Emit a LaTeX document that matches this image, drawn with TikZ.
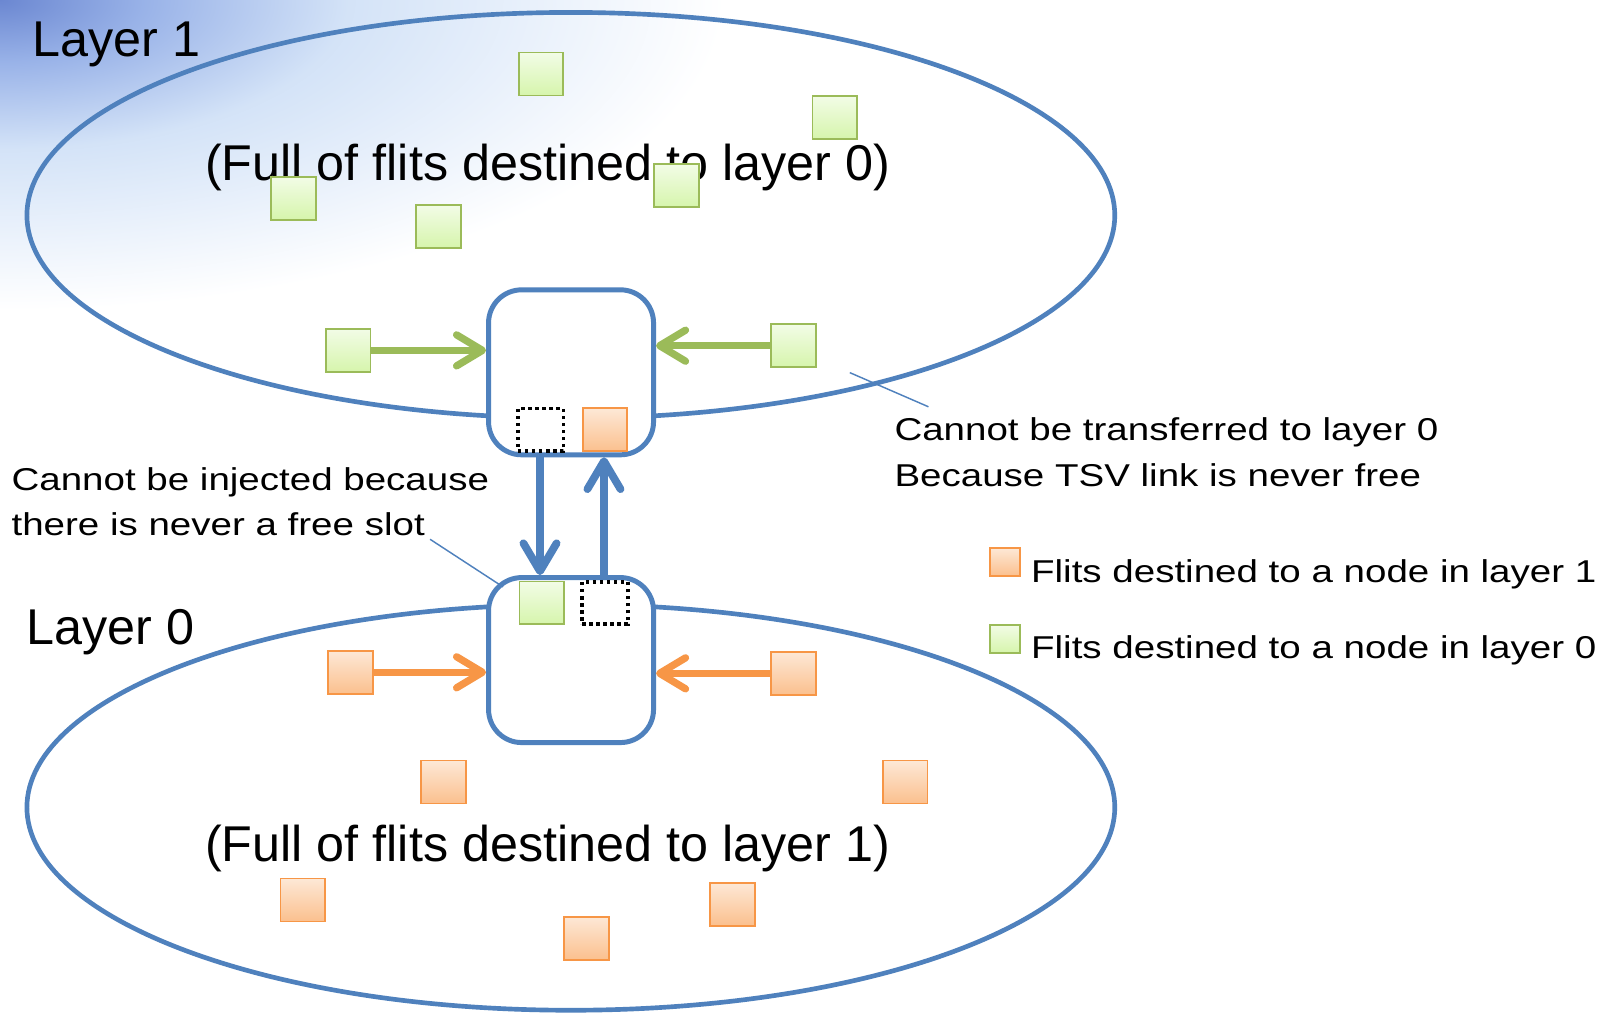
\documentclass[tikz,border=0pt]{standalone}
\usepackage{fontspec}
\setmainfont{Liberation Sans}
\newfontfamily\wfont[FakeStretch=1.22]{Liberation Sans}
\usetikzlibrary{arrows.meta,shapes.geometric}
\definecolor{lblue}{RGB}{79,129,189}
\definecolor{lgreen}{RGB}{155,187,89}
\definecolor{lorange}{RGB}{247,150,70}
\definecolor{gtop}{RGB}{242,252,230}
\definecolor{gbot}{RGB}{214,245,172}
\definecolor{otop}{RGB}{253,232,214}
\definecolor{obot}{RGB}{251,192,142}
\pgfdeclareradialshading{bgfade}{\pgfpoint{0bp}{0bp}}{rgb(0bp)=(0.42,0.53,0.82); rgb(5bp)=(0.60,0.70,0.91); rgb(12bp)=(0.83,0.89,0.97); rgb(25bp)=(1,1,1); rgb(50bp)=(1,1,1)}
\begin{document}
\begin{tikzpicture}[x=1pt,y=-1pt,
  layer/.style={ellipse, draw=lblue, line width=4.5pt, minimum width=1051pt, minimum height=392pt, inner sep=0pt},
  router/.style={draw=lblue, line width=4.8pt, fill=white, rounded corners=32pt, minimum width=159.4pt, minimum height=159.4pt, inner sep=0pt},
  gsq/.style={draw=lgreen, line width=1.8pt, top color=gtop, bottom color=gbot, minimum width=43pt, minimum height=41.5pt, inner sep=0pt},
  osq/.style={draw=lorange, line width=1.8pt, top color=otop, bottom color=obot, minimum width=43pt, minimum height=41.5pt, inner sep=0pt},
  lgsq/.style={gsq, minimum width=29pt, minimum height=27pt},
  losq/.style={osq, minimum width=29pt, minimum height=27pt},
  slot/.style={draw=black, line width=3.6pt, dash pattern=on 3.4pt off 3.4pt, minimum width=44pt, minimum height=41pt, inner sep=0pt},
  garrow/.style={draw=lgreen, line width=7pt, -{Straight Barb[length=25pt,width=30pt,round]}},
  oarrow/.style={draw=lorange, line width=7pt, -{Straight Barb[length=25pt,width=30pt,round]}},
  barrow/.style={draw=lblue, line width=7.5pt, -{Straight Barb[length=27pt,width=32pt,round]}},
  note/.style={draw=lblue, line width=1.4pt},
  big/.style={inner sep=0pt, font=\fontsize{48.6}{58}\selectfont},
  small/.style={inner sep=0pt, anchor=base west, font=\wfont\fontsize{30.5}{40}\selectfont}
]
\useasboundingbox (0,0) rectangle (1568,980);
\fill[white] (0,0) rectangle (1568,980);
\begin{scope}
  \clip (0,0) rectangle (1568,980);
  \shade[shading=bgfade] (0,0) ellipse [x radius=700, y radius=300];
\end{scope}

% layers
\node[layer] (layer1) at (551.5,208) {};
\node[layer] (layer0) at (551.5,780) {};

% routers
\node[router] (r1) at (551.7,359.7) {};
\node[router] (r0) at (551.7,637.7) {};

% texts
\node[big, anchor=base west] (t1) at (31,55) {Layer 1};
\node[big, anchor=base west] (t0) at (25.5,623) {Layer 0};
\node[big, anchor=base] (full1) at (529,174) {(Full of flits destined to layer 0)};
\node[big, anchor=base] (full0) at (529,832) {(Full of flits destined to layer 1)};

% green flits in layer 1
\node[gsq] (g1) at (522.5,71.5) {};
\node[gsq] (g2) at (806.5,113.5) {};
\node[gsq] (g3) at (283.5,191.5) {};
\node[gsq] (g4) at (423.5,219) {};
\node[gsq] (g5) at (653.5,179.5) {};
\node[gsq] (g6) at (336.5,338.5) {};
\node[gsq] (g7) at (766.5,334) {};

% orange flits in layer 0
\node[osq] (o1) at (338.5,649.5) {};
\node[osq] (o2) at (766.5,650.5) {};
\node[osq] (o3) at (428.5,755.5) {};
\node[osq] (o4) at (874.5,755.5) {};
\node[osq] (o5) at (292.5,869.5) {};
\node[osq] (o6) at (707.5,873.5) {};
\node[osq] (o7) at (566.5,906.5) {};

% slots in routers
\node[slot] (s1) at (522.3,415.2) {};
\node[osq] (so) at (584.5,415.3) {};
\node[gsq] (sg) at (523.4,582.5) {};
\node[slot] (s0) at (584.5,582.5) {};

% arrows into routers
\draw[garrow] (g6.east) -- (g6.east -| r1.west);
\draw[garrow] (g7.west) -- (g7.west -| r1.east);
\draw[oarrow] (o1.east) -- (o1.east -| r0.west);
\draw[oarrow] (o2.west) -- (o2.west -| r0.east);

% TSV links
\draw[barrow] ([xshift=-30pt]r1.south) -- ([xshift=-30pt]r0.north);
\draw[barrow] ([xshift=31.8pt]r0.north) -- ([xshift=31.8pt]r1.south);

% annotations
\node[small] (na1) at (864,426) {Cannot be transferred to layer 0};
\node[small] (na2) at (864,470) {Because TSV link is never free};
\node[small] (nb1) at (11,474) {Cannot be injected because};
\node[small] (nb2) at (11,517) {there is never a free slot};
\coordinate (ca) at (821,360);
\coordinate (cb) at (897,393);
\coordinate (cc) at (415.5,521);
\coordinate (cd) at (486,567);
\draw[note] (ca) -- (cb);
\draw[note] (cc) -- (cd);

% legend
\node[losq] (lo) at (971,543) {};
\node[lgsq] (lg) at (971,617) {};
\node[small] (lt1) at (996,563) {Flits destined to a node in layer 1};
\node[small] (lt0) at (996,636) {Flits destined to a node in layer 0};
\end{tikzpicture}
\end{document}
